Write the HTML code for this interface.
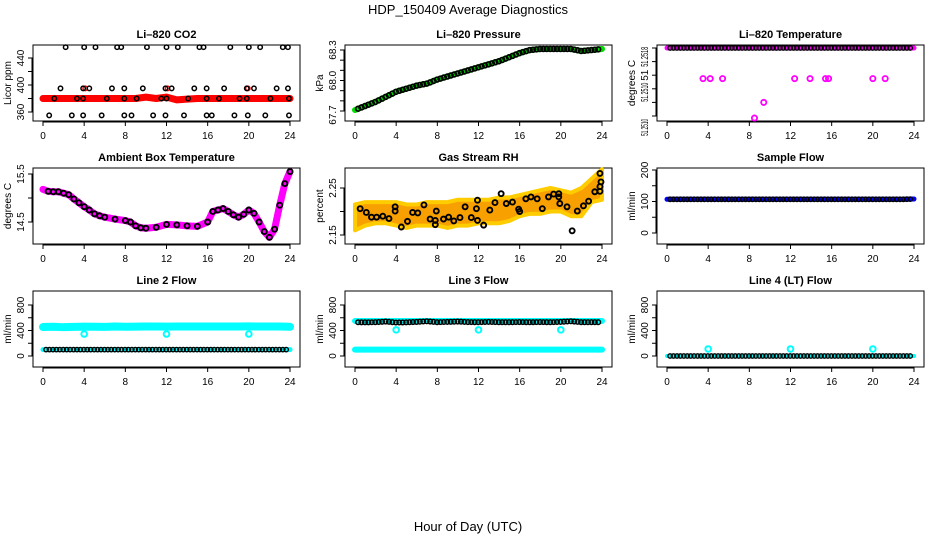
<!DOCTYPE html>
<html><head><meta charset="utf-8"><style>
body{margin:0;background:#fff;}
svg{display:block;font-family:"Liberation Sans",sans-serif;}
</style></head><body>
<svg id="c" width="936" height="540" viewBox="0 0 936 540">
<text x="468" y="14" text-anchor="middle" font-size="13">HDP_150409  Average Diagnostics</text>
<text x="468" y="531" text-anchor="middle" font-size="13">Hour of Day (UTC)</text>
</svg>
<script>
// ---- data ----
const hours = [0,1,2,3,4,5,6,7,8,9,10,11,12,13,14,15,16,17,18,19,20,21,22,23,24];
const co2Red = [380,380,380,380,380,380,380,380,380,380,382,380,382,378,379,380,380,380,380,380,380,380,380,380,380];
const co2TopX = [2.2,4,5.1,7.2,7.6,10.1,12,13.1,15.2,15.6,18.2,20,21.1,23.3,23.8];
const co2MidX = [1.7,3.9,4.5,6.7,7.9,9.7,11.9,12.5,14.7,15.9,17.6,19.8,20.5,22.7,23.8];
const co2LowX = [1.1,3.3,3.9,6.2,7.9,9.1,11.5,12,14.1,15.9,17.1,19.1,19.8,22.1,23.9];
const co2BotX = [0.6,2.8,3.9,5.7,7.9,8.6,10.7,11.9,13.7,15.9,16.4,18.6,19.9,21.6,23.9];
const co2Levels = [456,395,380,355];
const co2RedX = [4.1,12.1,19.9];
const pressure = [67.71,67.75,67.79,67.84,67.89,67.92,67.95,67.97,68.01,68.04,68.07,68.10,68.13,68.16,68.19,68.23,68.27,68.30,68.31,68.31,68.31,68.31,68.29,68.30,68.31];
const tempTop = 51.2518;
const tempMidX = [3.5,4.2,5.4,12.4,13.9,15.4,15.7,20,21.2];
const tempMid = 51.25135;
const tempLowX = [9.4,8.5];
const tempLow = [51.2510,51.25077];
const ambX = [0,0.5,1,1.5,2,2.5,3,3.5,4,4.5,5,5.5,6,7,8,8.5,9,9.5,10,11,12,13,14,15,16,16.5,17,17.5,18,18.5,19,19.5,20,20.5,21,21.5,22,22.5,23,23.5,24];
const ambV = [15.18,15.14,15.13,15.13,15.1,15.07,14.98,14.9,14.82,14.75,14.67,14.63,14.6,14.56,14.53,14.5,14.42,14.38,14.37,14.39,14.45,14.44,14.42,14.41,14.5,14.72,14.75,14.78,14.72,14.65,14.6,14.66,14.75,14.68,14.5,14.3,14.18,14.35,14.85,15.3,15.55];
const rhX = [0.5,1.1,1.6,2.1,2.7,3.3,3.9,3.9,4.5,5.1,5.6,6.1,6.7,7.3,7.8,7.8,7.9,8.6,9.1,9.6,10.2,10.7,11.3,11.8,11.9,11.9,12.5,13.1,13.6,14.2,14.7,15.3,15.9,16,16.6,17.1,17.7,18.2,18.8,19.3,19.8,19.8,19.9,20.6,21.1,21.6,22.2,22.7,23.3,23.8,23.8,23.9,23.8];
const rhV = [2.206,2.198,2.188,2.188,2.19,2.185,2.201,2.21,2.167,2.179,2.198,2.197,2.214,2.184,2.181,2.172,2.201,2.184,2.188,2.18,2.187,2.21,2.187,2.206,2.181,2.224,2.171,2.203,2.219,2.238,2.217,2.22,2.205,2.2,2.227,2.231,2.227,2.206,2.231,2.237,2.238,2.231,2.217,2.21,2.159,2.201,2.212,2.222,2.242,2.243,2.253,2.263,2.281];
const rhUpper = [2.215,2.22,2.22,2.22,2.22,2.215,2.215,2.22,2.22,2.22,2.225,2.225,2.225,2.225,2.23,2.23,2.235,2.24,2.245,2.25,2.245,2.24,2.25,2.27,2.29];
const rhLower = [2.16,2.17,2.175,2.175,2.17,2.165,2.17,2.17,2.17,2.165,2.17,2.17,2.175,2.175,2.175,2.18,2.19,2.195,2.195,2.2,2.2,2.19,2.19,2.22,2.225];
const sampleFlow = [107,107,107,107,107,107,107,107,107,107,107,107,107,107,107,107,107,107,107,107,107,107,107,107,108];
const line2Cyan = [455,458,452,456,460,458,457,462,458,460,462,463,460,462,463,462,463,462,462,463,464,463,462,462,458];
const line2Low = [100,100,100,100,100,100,100,100,100,100,100,100,100,100,100,100,100,100,100,100,100,100,100,100,100];
const line3Cyan = [550,550,550,550,550,550,550,550,550,550,550,550,550,550,550,550,550,550,550,550,550,550,550,550,550];
const line3Black = [530,528,530,540,525,528,535,545,530,535,540,532,530,535,530,530,532,530,532,530,535,545,530,530,530];
const line3Low = [100,100,100,100,100,100,100,100,100,100,100,100,100,100,100,100,100,100,100,100,100,100,100,100,100];
const line4Black = [0,0,0,0,0,0,0,0,0,0,0,0,0,0,0,0,0,0,0,0,0,0,0,0,0];
const dipX = [4,12,20];
const line2Dip = [345,345,345];
const line3Dip = [410,410,410];
const line4Dip = [110,110,110];
const xTicks = [0,4,8,12,16,20,24];

// ---- drawing ----
const svg = document.getElementById('c');
const NS = 'http://www.w3.org/2000/svg';
function mk(tag, attrs, parent){const e=document.createElementNS(NS,tag);for(const k in attrs)e.setAttribute(k,attrs[k]);(parent||svg).appendChild(e);return e;}

function panel(r,c,title,ylab,yRef,ticks,labels){
  const L=33+312*c, T=45+123*r, W=267, H=76;
  const g=mk('g',{});
  
  
  const sx=h=>L+10+h*(247/24);
  const [v1,o1,v2,o2]=yRef;
  const sy=v=>T+o1+(v-v1)*(o2-o1)/(v2-v1);
  const t=mk('text',{x:L+W/2,y:T-7,'text-anchor':'middle','font-size':11,'font-weight':'bold'},g);
  t.textContent=title;
  
  
  const box=mk('rect',{x:L,y:T,width:W,height:H,fill:'none',stroke:'#000','stroke-width':1},g);
  
  
  const xa=mk('g',{},g);
  
  
  mk('line',{x1:sx(0),x2:sx(24),y1:T+H+1,y2:T+H+1,stroke:'#000'},xa);
  xTicks.forEach(h=>{mk('line',{x1:sx(h),x2:sx(h),y1:T+H,y2:T+H+5,stroke:'#000'},xa);
    const tx=mk('text',{x:sx(h),y:T+H+18,'text-anchor':'middle','font-size':10},xa);tx.textContent=h;});
  const ya=mk('g',{},g);
  
  
  mk('line',{x1:L-1,x2:L-1,y1:sy(ticks[0]),y2:sy(ticks[ticks.length-1]),stroke:'#000'},ya);
  ticks.forEach(v=>mk('line',{x1:L-5,x2:L,y1:sy(v),y2:sy(v),stroke:'#000'},ya));
  labels.forEach(([v,s,dy,tl])=>{const y=sy(v)+(dy||0);const a={x:L-9,y:y,'text-anchor':'middle','font-size':10,transform:`rotate(-90 ${L-9} ${y})`};
    if(tl){a.textLength=tl;a.lengthAdjust='spacingAndGlyphs';}
    const tx=mk('text',a,ya);tx.textContent=s;});
  const yl=mk('text',{x:L-22,y:T+H/2,'text-anchor':'middle','font-size':10,transform:`rotate(-90 ${L-22} ${T+H/2})`},g);
  yl.textContent=ylab;
  
  
  return {g,sx,sy};
}
function pts(p,xs,ys,color,name,r,sw,fill){
  const g=mk('g',{},p.g);
  
  
  xs.forEach((x,i)=>mk('circle',{cx:p.sx(x),cy:p.sy(ys[i]),r:r||2.4,fill:fill||'none',stroke:color,'stroke-width':sw||1.5},g));
}
function band(p,xs,ys,color,name,w){
  const d=xs.map((x,i)=>p.sx(x)+','+p.sy(ys[i])).join(' ');
  const e=mk('polyline',{points:d,fill:'none',stroke:color,'stroke-width':w||6,'stroke-linejoin':'round','stroke-linecap':'round'},p.g);
  
  
}
function fineX(step){const o=[];for(let h=0.3;h<=23.9;h+=step)o.push(+h.toFixed(2));return o;}
function interpAt(arr,h){const i=Math.min(23,Math.floor(h));const f=h-i;return arr[i]*(1-f)+arr[i+1]*f;}

// Panel 1: CO2
let p=panel(0,0,'Li\u2013820 CO2','Licor ppm',[360,67,440,13],[360,380,400,420,440],[[360,'360'],[400,'400'],[440,'440']]);
band(p,hours,co2Red,'#ff0000','co2-red-series',7);
pts(p,co2RedX,co2RedX.map(()=>395),'#ff0000','co2-red-outliers',2.2,1.5);
[co2TopX,co2MidX,co2LowX,co2BotX].forEach((xs,k)=>pts(p,xs,xs.map(()=>co2Levels[k]),'#000','co2-black-level-'+k,2.2,1.5));

// Panel 2: Pressure
p=panel(0,1,'Li\u2013820 Pressure','kPa',[67.7,66,68.3,5],[67.7,67.8,67.9,68.0,68.1,68.2,68.3],[[67.7,'67.7',4],[68.0,'68.0'],[68.3,'68.3']]);
band(p,hours,pressure,'#00dd00','pressure-green-series',6);
{const fx=fineX(1/3);pts(p,fx,fx.map(h=>interpAt(pressure,h)),'#000','pressure-black-series',2.4,1.7);}

// Panel 3: Temperature
p=panel(0,2,'Li\u2013820 Temperature','degrees C',[51.2508,71,51.2518,3],[51.2508,51.2510,51.2512,51.2514,51.2516,51.2518],[[51.2517,'51.2518',2,20],[51.2514,'51',0],[51.25115,'51.2510',0,19],[51.25075,'51.2510',8,17]]);
{const fx=fineX(1/3);band(p,[0,24],[tempTop,tempTop],'#ff00ff','temp-magenta-series',5);pts(p,fx,fx.map(()=>tempTop),'#000','temp-black-series',2.2,1.4);}
pts(p,tempMidX,tempMidX.map(()=>tempMid),'#ff00ff','temp-magenta-outliers',2.6,1.8);
pts(p,tempLowX,tempLow,'#ff00ff','temp-low-outliers',2.6,1.8);

// Panel 4: Ambient
p=panel(1,0,'Ambient Box Temperature','degrees C',[14.5,54,15.5,6],[14.5,15.0,15.5],[[14.5,'14.5'],[15.5,'15.5']]);
band(p,ambX,ambV,'#ff00ff','ambient-magenta-series',7);
pts(p,ambX.slice(1),ambV.slice(1),'#000','ambient-black-series',2.5,1.9);

// Panel 5: RH
p=panel(1,1,'Gas Stream RH','percent',[2.15,67,2.25,20],[2.15,2.20,2.25],[[2.15,'2.15'],[2.25,'2.25']]);
{const d=hours.map((h,i)=>p.sx(h)+','+p.sy(rhUpper[i])).join(' ')+' '+hours.slice().reverse().map((h,j)=>p.sx(h)+','+p.sy(rhLower[24-j])).join(' ');
 const e=mk('polygon',{points:d,fill:'#f7a000',stroke:'#ffcc00','stroke-width':4,'stroke-linejoin':'round'},p.g);
 
 }
pts(p,rhX,rhV,'#000','rh-black-series',2.5,1.9);

// Panel 6: Sample flow
p=panel(1,2,'Sample Flow','ml/min',[0,65,200,2],[0,50,100,150,200],[[0,'0'],[100,'100'],[200,'200']]);
band(p,hours,sampleFlow,'#0000ff','sample-blue-series',5);
{const fx=fineX(1/3);pts(p,fx,fx.map(h=>interpAt(sampleFlow,h)),'#000','sample-black-series',2.2,1.4);}

// Panel 7: Line 2
p=panel(2,0,'Line 2 Flow','ml/min',[0,65,800,14],[0,200,400,600,800],[[0,'0'],[400,'400'],[800,'800']]);
band(p,hours,line2Cyan,'#00ffff','line2-cyan-series',8);
band(p,hours,line2Low,'#00ffff','line2-cyan-low',5);
{const fx=fineX(1/3);pts(p,fx,fx.map(h=>interpAt(line2Low,h)),'#000','line2-black-series',2.2,1.4);}
pts(p,dipX,line2Dip,'#00ffff','line2-dips',2.8,2);

// Panel 8: Line 3
p=panel(2,1,'Line 3 Flow','ml/min',[0,65,800,14],[0,200,400,600,800],[[0,'0'],[400,'400'],[800,'800']]);
band(p,hours,line3Cyan,'#00ffff','line3-cyan-series',6);
band(p,hours,line3Low,'#00ffff','line3-cyan-low',6);
{const fx=fineX(1/3);pts(p,fx,fx.map(h=>interpAt(line3Black,h)),'#000','line3-black-series',2.3,1.5);}
pts(p,dipX,line3Dip,'#00ffff','line3-dips',2.8,2);

// Panel 9: Line 4
p=panel(2,2,'Line 4 (LT) Flow','ml/min',[0,65,800,14],[0,200,400,600,800],[[0,'0'],[400,'400'],[800,'800']]);
band(p,hours,line4Black,'#00ffff','line4-cyan-series',4);
{const fx=fineX(1/3);pts(p,fx,fx.map(h=>interpAt(line4Black,h)),'#000','line4-black-series',2.2,1.4);}
pts(p,dipX,line4Dip,'#00ffff','line4-dips',2.8,2);
</script>
</body></html>
